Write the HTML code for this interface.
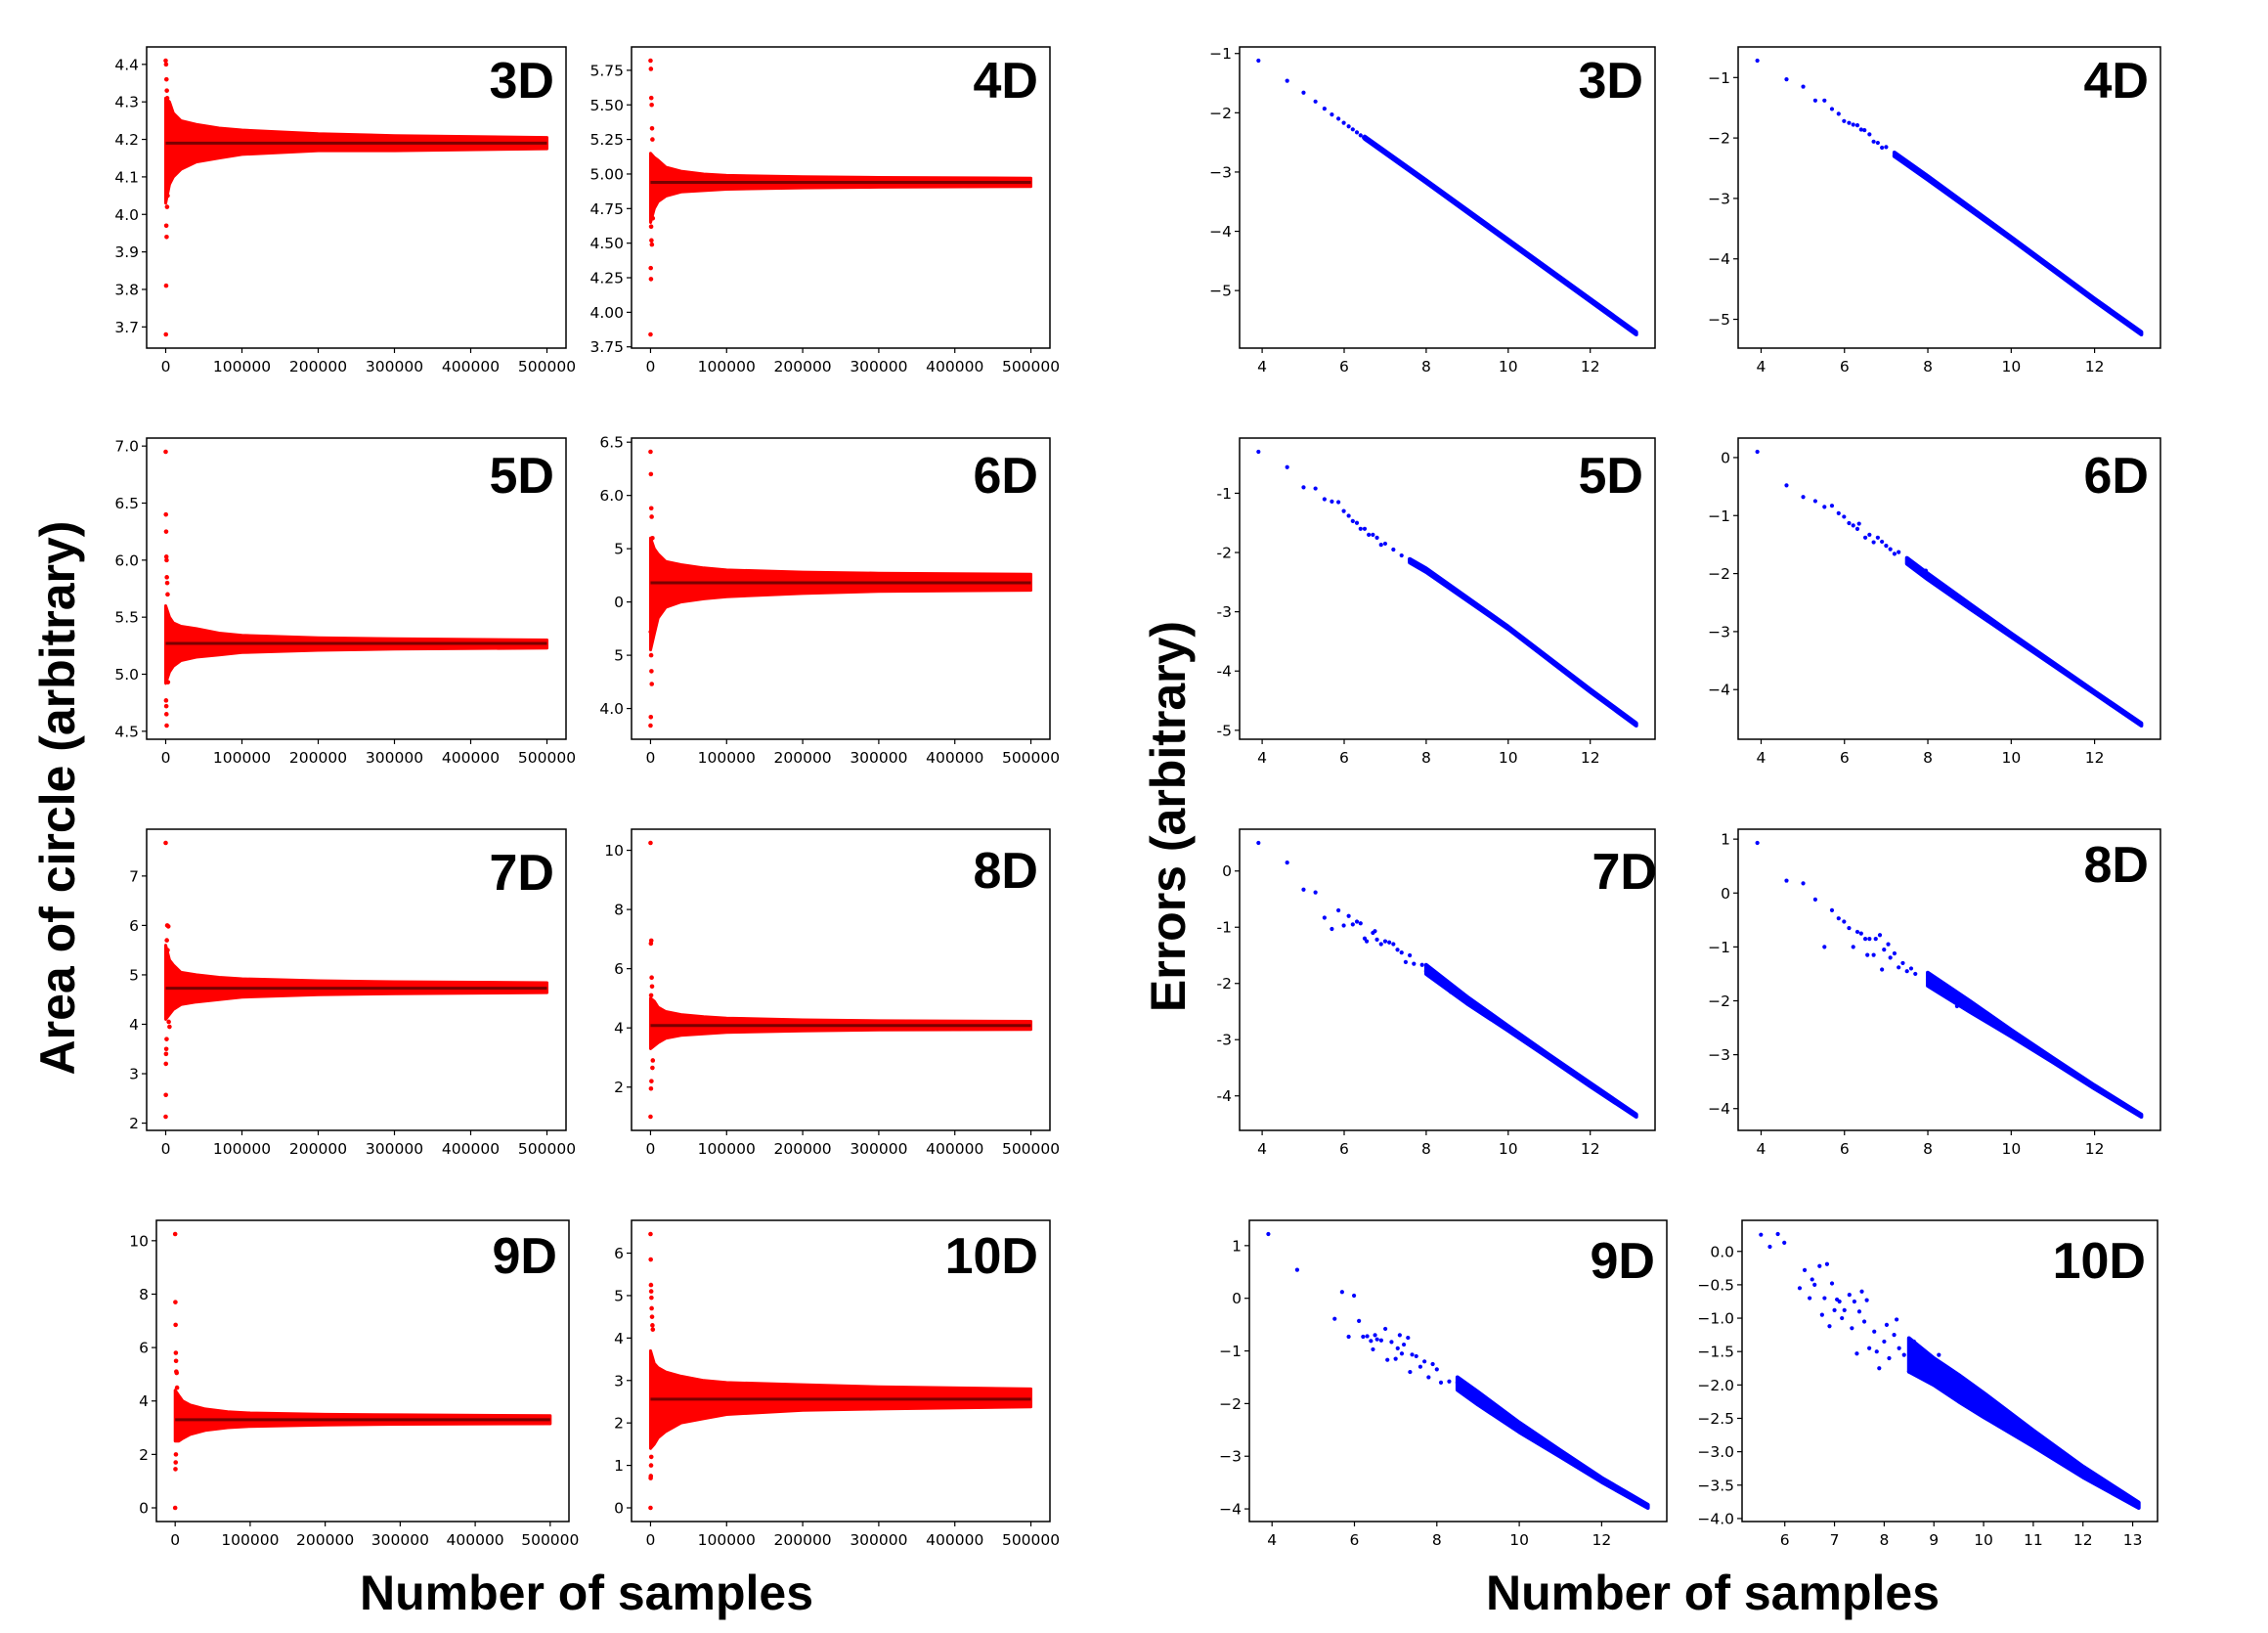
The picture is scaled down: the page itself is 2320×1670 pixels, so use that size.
<!DOCTYPE html>
<html><head><meta charset="utf-8"><style>
html,body{margin:0;padding:0;background:#fff;}
svg{display:block;font-family:"DejaVu Sans","Liberation Sans",sans-serif;}
</style></head><body>
<svg id="fig" xmlns="http://www.w3.org/2000/svg" width="2320" height="1670" viewBox="0 0 2320 1670">
<rect width="2320" height="1670" fill="#fff"/>
<text x="0" y="0" transform="translate(76,816) rotate(-90)" text-anchor="middle" font-family="Liberation Sans, sans-serif" font-weight="bold" font-size="50">Area of circle (arbitrary)</text>
<text x="0" y="0" transform="translate(1212,835) rotate(-90)" text-anchor="middle" font-family="Liberation Sans, sans-serif" font-weight="bold" font-size="50">Errors (arbitrary)</text>
<text x="600" y="1646" text-anchor="middle" font-family="Liberation Sans, sans-serif" font-weight="bold" font-size="50">Number of samples</text>
<text x="1752" y="1646" text-anchor="middle" font-family="Liberation Sans, sans-serif" font-weight="bold" font-size="50">Number of samples</text>
<g id="plots"></g>
</svg>
<script>
// ---------- LEFT (area) data ----------
const envX = [0, 5000, 10000, 20000, 40000, 70000, 100000, 200000, 300000, 500000];
const xTicksLeft = [0, 100000, 200000, 300000, 400000, 500000];
const xTickLblLeft = ["0","100000","200000","300000","400000","500000"];

const lo3D = [4.03,4.08,4.10,4.12,4.14,4.15,4.16,4.17,4.17,4.175];
const hi3D = [4.31,4.30,4.27,4.25,4.24,4.23,4.225,4.215,4.21,4.205];
const mean3D = 4.19;
const outX3D = [0,500,1000,1500,2000,800,1200,600,300,1800,2500,3000];
const outY3D = [4.41,4.40,4.36,4.33,4.31,3.97,3.94,3.81,3.68,4.02,4.05,4.08];
const yt3D = [3.7,3.8,3.9,4.0,4.1,4.2,4.3,4.4];
const yl3D = ["3.7","3.8","3.9","4.0","4.1","4.2","4.3","4.4"];

const lo4D = [4.65,4.75,4.80,4.84,4.87,4.88,4.89,4.90,4.905,4.91];
const hi4D = [5.15,5.12,5.10,5.05,5.02,5.00,4.99,4.98,4.975,4.97];
const mean4D = 4.94;
const outX4D = [0,500,1000,1500,2000,2500,800,1200,1800,300,600,0,3000];
const outY4D = [5.82,5.76,5.55,5.50,5.33,5.25,4.62,4.52,4.49,4.32,4.24,3.84,4.68];
const yt4D = [3.75,4.0,4.25,4.5,4.75,5.0,5.25,5.5,5.75];
const yl4D = ["3.75","4.00","4.25","4.50","4.75","5.00","5.25","5.50","5.75"];

const lo5D = [4.92,5.02,5.07,5.12,5.15,5.17,5.19,5.21,5.22,5.23];
const hi5D = [5.60,5.50,5.45,5.42,5.40,5.36,5.34,5.32,5.31,5.30];
const mean5D = 5.27;
const outX5D = [0,300,600,900,1200,1500,2000,2500,500,800,1000,1300,3000];
const outY5D = [6.95,6.40,6.25,6.03,6.00,5.85,5.80,5.70,4.77,4.72,4.65,4.55,4.93];
const yt5D = [4.5,5.0,5.5,6.0,6.5,7.0];
const yl5D = ["4.5","5.0","5.5","6.0","6.5","7.0"];

const lo6D = [4.55,4.70,4.85,4.95,5.00,5.03,5.05,5.08,5.10,5.11];
const hi6D = [5.60,5.50,5.45,5.38,5.35,5.32,5.30,5.28,5.27,5.26];
const mean6D = 5.18;
const outX6D = [0,500,1000,1500,2500,300,800,1200,1600,400,0];
const outY6D = [6.41,6.20,5.88,5.80,5.60,4.72,4.50,4.35,4.23,3.92,3.84];
const yt6D = [4.0,4.5,5.0,5.5,6.0,6.5];
const yl6D = ["4.0","5","0","5","6.0","6.5"];

const lo7D = [4.10,4.20,4.30,4.40,4.45,4.50,4.55,4.60,4.62,4.64];
const hi7D = [5.60,5.30,5.20,5.05,5.00,4.95,4.92,4.88,4.86,4.84];
const mean7D = 4.73;
const outX7D = [0,2000,3500,1500,2500,5000,1200,800,500,300,200,0,4000];
const outY7D = [7.67,6.00,5.98,5.70,5.50,3.95,3.70,3.50,3.40,3.20,2.57,2.13,4.05];
const yt7D = [2,3,4,5,6,7];
const yl7D = ["2","3","4","5","6","7"];

const lo8D = [3.30,3.40,3.50,3.65,3.75,3.80,3.85,3.90,3.93,3.95];
const hi8D = [5.00,4.90,4.70,4.55,4.45,4.38,4.33,4.27,4.24,4.22];
const mean8D = 4.08;
const outX8D = [0,1000,500,1500,2000,800,3000,2500,1200,600,0];
const outY8D = [10.25,6.95,6.85,5.70,5.40,5.10,2.90,2.65,2.20,1.95,1.00];
const yt8D = [2,4,6,8,10];
const yl8D = ["2","4","6","8","10"];

const lo9D = [2.50,2.50,2.60,2.75,2.90,3.00,3.05,3.10,3.13,3.15];
const hi9D = [4.40,4.20,4.00,3.85,3.70,3.60,3.55,3.50,3.48,3.45];
const mean9D = 3.30;
const outX9D = [0,300,600,900,1200,1500,2000,2500,1000,700,400,0];
const outY9D = [10.25,7.70,6.85,5.80,5.50,5.10,5.05,4.50,2.00,1.70,1.45,0.00];
const yt9D = [0,2,4,6,8,10];
const yl9D = ["0","2","4","6","8","10"];

const lo10D = [1.40,1.50,1.65,1.80,2.00,2.10,2.20,2.30,2.33,2.38];
const hi10D = [3.70,3.40,3.30,3.20,3.10,3.00,2.95,2.90,2.85,2.80];
const mean10D = 2.56;
const outX10D = [0,300,600,900,1200,1500,2000,2500,3000,1000,700,400,200,0];
const outY10D = [6.45,5.85,5.25,5.10,4.95,4.70,4.50,4.30,4.20,1.20,1.00,0.75,0.70,0.00];
const yt10D = [0,1,2,3,4,5,6];
const yl10D = ["0","1","2","3","4","5","6"];

// ---------- RIGHT (error) data ----------
const xt = [4,6,8,10,12];
const xtl = ["4","6","8","10","12"];
const xt10 = [6,7,8,9,10,11,12,13];
const xtl10 = ["6","7","8","9","10","11","12","13"];

const sx3D = [3.91,4.61,5.01,5.30,5.52,5.70,5.86,5.99,6.11,6.21,6.31,6.40,6.48];
const sy3D = [-1.12,-1.46,-1.66,-1.81,-1.93,-2.03,-2.10,-2.17,-2.23,-2.28,-2.33,-2.38,-2.42];
const bx3D = [6.5,8,10,12,13.12];
const bc3D = [-2.42,-3.16,-4.16,-5.16,-5.72];
const bw3D = [0.02,0.02,0.02,0.02,0.02];
const eyt3D = [-5,-4,-3,-2,-1];
const eyl3D = ["−5","−4","−3","−2","−1"];

const sx4D = [3.91,4.61,5.01,5.30,5.52,5.70,5.86,5.99,6.11,6.21,6.31,6.40,6.48,6.60,6.70,6.80,6.90,7.00,7.20];
const sy4D = [-0.72,-1.03,-1.15,-1.38,-1.38,-1.52,-1.60,-1.72,-1.75,-1.78,-1.79,-1.86,-1.87,-1.94,-2.06,-2.08,-2.16,-2.15,-2.30];
const bx4D = [7.2,8,10,12,13.12];
const bc4D = [-2.27,-2.66,-3.66,-4.68,-5.23];
const bw4D = [0.03,0.03,0.02,0.02,0.02];
const eyt4D = [-5,-4,-3,-2,-1];
const eyl4D = ["−5","−4","−3","−2","−1"];

const sx5D = [3.91,4.61,5.01,5.30,5.52,5.70,5.86,5.99,6.11,6.21,6.31,6.40,6.50,6.60,6.70,6.80,6.90,7.00,7.20,7.40,7.60];
const sy5D = [-0.30,-0.56,-0.90,-0.92,-1.10,-1.14,-1.15,-1.30,-1.38,-1.47,-1.50,-1.60,-1.60,-1.70,-1.70,-1.75,-1.87,-1.85,-1.95,-2.05,-2.12];
const bx5D = [7.6,8,10,12,13.12];
const bc5D = [-2.14,-2.30,-3.27,-4.33,-4.90];
const bw5D = [0.03,0.03,0.02,0.02,0.02];
const eyt5D = [-5,-4,-3,-2,-1];
const eyl5D = ["-5","-4","-3","-2","-1"];

const sx6D = [3.91,4.61,5.01,5.30,5.52,5.70,5.86,5.99,6.11,6.21,6.31,6.35,6.50,6.60,6.70,6.80,6.90,7.00,7.10,7.20,7.30,7.60,7.85,7.95];
const sy6D = [0.10,-0.48,-0.68,-0.75,-0.85,-0.83,-0.96,-1.02,-1.13,-1.17,-1.23,-1.14,-1.38,-1.33,-1.46,-1.38,-1.45,-1.52,-1.58,-1.66,-1.63,-1.85,-2.00,-1.95];
const bx6D = [7.5,8,9,10,12,13.12];
const bc6D = [-1.78,-2.05,-2.56,-3.06,-4.05,-4.60];
const bw6D = [0.05,0.05,0.04,0.03,0.02,0.02];
const eyt6D = [-4,-3,-2,-1,0];
const eyl6D = ["−4","−3","−2","−1","0"];

const sx7D = [3.91,4.61,5.01,5.30,5.52,5.70,5.86,5.99,6.11,6.21,6.31,6.40,6.50,6.55,6.70,6.75,6.80,6.90,7.00,7.10,7.20,7.30,7.40,7.50,7.60,7.70,7.90,8.00,8.30,8.50,8.60];
const sy7D = [0.50,0.15,-0.33,-0.38,-0.83,-1.03,-0.70,-0.97,-0.80,-0.95,-0.90,-0.93,-1.20,-1.25,-1.10,-1.07,-1.22,-1.30,-1.25,-1.27,-1.30,-1.40,-1.45,-1.62,-1.50,-1.65,-1.67,-1.78,-1.93,-2.07,-2.15];
const bx7D = [8,9,10,11,12,13.12];
const bc7D = [-1.75,-2.30,-2.80,-3.30,-3.80,-4.35];
const bw7D = [0.08,0.06,0.04,0.03,0.03,0.02];
const eyt7D = [-4,-3,-2,-1,0];
const eyl7D = ["-4","-3","-2","-1","0"];

const sx8D = [3.91,4.61,5.01,5.30,5.52,5.70,5.86,5.99,6.11,6.21,6.31,6.40,6.50,6.55,6.60,6.70,6.75,6.85,6.90,6.95,7.05,7.10,7.20,7.30,7.40,7.50,7.60,7.70,8.00,8.20,8.50,8.70];
const sy8D = [0.93,0.23,0.18,-0.12,-1.00,-0.32,-0.47,-0.53,-0.65,-1.00,-0.72,-0.75,-0.85,-1.15,-0.85,-1.15,-0.85,-0.78,-1.42,-1.05,-0.95,-1.20,-1.12,-1.38,-1.30,-1.45,-1.40,-1.50,-1.60,-1.78,-1.95,-2.10];
const bx8D = [8,9,10,11,12,13.12];
const bc8D = [-1.60,-2.10,-2.60,-3.10,-3.60,-4.13];
const bw8D = [0.12,0.10,0.06,0.04,0.03,0.02];
const eyt8D = [-4,-3,-2,-1,0,1];
const eyl8D = ["−4","−3","−2","−1","0","1"];

const sx9D = [3.91,4.61,5.52,5.70,5.86,5.99,6.11,6.21,6.31,6.40,6.45,6.50,6.55,6.65,6.75,6.80,6.90,7.00,7.05,7.10,7.15,7.20,7.30,7.35,7.40,7.50,7.60,7.70,7.80,7.90,8.00,8.10,8.30,8.50,8.70];
const sy9D = [1.22,0.54,-0.39,0.12,-0.73,0.05,-0.43,-0.73,-0.72,-0.81,-0.97,-0.70,-0.78,-0.80,-0.58,-1.17,-0.83,-1.15,-0.95,-0.70,-1.05,-0.88,-0.75,-1.40,-1.07,-1.10,-1.30,-1.20,-1.50,-1.25,-1.35,-1.60,-1.58,-1.60,-1.70];
const bx9D = [8.5,9,10,11,12,13.12];
const bc9D = [-1.62,-1.90,-2.45,-2.95,-3.45,-3.95];
const bw9D = [0.12,0.12,0.09,0.06,0.04,0.03];
const eyt9D = [-4,-3,-2,-1,0,1];
const eyl9D = ["−4","−3","−2","−1","0","1"];

const sx10D = [5.52,5.70,5.86,5.99,6.30,6.40,6.50,6.55,6.60,6.70,6.75,6.80,6.85,6.90,6.95,7.00,7.05,7.10,7.15,7.20,7.30,7.35,7.40,7.45,7.50,7.55,7.60,7.65,7.70,7.80,7.85,7.90,8.00,8.05,8.10,8.20,8.25,8.30,8.40,8.50,8.60,8.70,8.80,8.90,9.00,9.10];
const sy10D = [0.25,0.07,0.26,0.13,-0.55,-0.28,-0.70,-0.42,-0.50,-0.22,-0.95,-0.70,-0.19,-1.12,-0.48,-0.88,-0.72,-0.75,-1.00,-0.88,-0.65,-1.15,-0.75,-1.53,-0.90,-0.60,-1.05,-0.73,-1.45,-1.20,-1.50,-1.75,-1.35,-1.10,-1.60,-1.25,-1.02,-1.45,-1.55,-1.80,-1.35,-1.60,-1.70,-1.85,-1.75,-1.55];
const bx10D = [8.5,9,9.5,10,11,12,13.12];
const bc10D = [-1.55,-1.80,-2.05,-2.30,-2.80,-3.30,-3.80];
const bw10D = [0.25,0.20,0.20,0.18,0.12,0.08,0.04];
const eyt10D = [-4,-3.5,-3,-2.5,-2,-1.5,-1,-0.5,0];
const eyl10D = ["−4.0","−3.5","−3.0","−2.5","−2.0","−1.5","−1.0","−0.5","0.0"];

const NS = "http://www.w3.org/2000/svg";
const root = document.getElementById('plots');
function el(tag, attrs, parent){ const e=document.createElementNS(NS,tag); for(const k in attrs) e.setAttribute(k,attrs[k]); (parent||root).appendChild(e); return e; }
function lim(vals){ const mn=Math.min(...vals), mx=Math.max(...vals), m=(mx-mn)*0.05; return [mn-m, mx+m]; }

function frame(g, p, label, xticks, xlbls, yticks, ylbls, sx, sy){
  for(let i=0;i<xticks.length;i++){
    const x=sx(xticks[i]);
    const t=el('line',{x1:x,x2:x,y1:p.y+p.h,y2:p.y+p.h+5,stroke:'#000','stroke-width':1.2},g);
    
    
    const tx=el('text',{x:x,y:p.y+p.h+24,'text-anchor':'middle','font-size':15.5},g);
    tx.textContent=xlbls[i];
    
    
  }
  for(let i=0;i<yticks.length;i++){
    const y=sy(yticks[i]);
    const t=el('line',{x1:p.x-5,x2:p.x,y1:y,y2:y,stroke:'#000','stroke-width':1.2},g);
    
    
    const tx=el('text',{x:p.x-8,y:y+5.5,'text-anchor':'end','font-size':15.5},g);
    tx.textContent=ylbls[i];
    
    
  }
  const r=el('rect',{x:p.x,y:p.y,width:p.w,height:p.h,fill:'none',stroke:'#000','stroke-width':1.5},g);
  
  
  const lt=el('text',{x:p.x+p.w-12+(p.lx||0),y:p.y+p.ly+2,'text-anchor':'end','font-size':52,'font-weight':'bold','font-family':'Liberation Sans, sans-serif'},g);
  lt.textContent=label;
  
  
}

function leftPanel(p, label, lo, hi, mean, ox, oy, yt, yl){
  const g=el('g',{});
  
  
  const xl=lim([0,500000]);
  const yL=lim(lo.concat(hi,oy));
  const sx=v=>p.x+(v-xl[0])/(xl[1]-xl[0])*p.w;
  const sy=v=>p.y+p.h-(v-yL[0])/(yL[1]-yL[0])*p.h;
  let d='';
  for(let i=0;i<envX.length;i++) d+=(i?'L':'M')+sx(envX[i]).toFixed(1)+','+sy(hi[i]).toFixed(1);
  for(let i=envX.length-1;i>=0;i--) d+='L'+sx(envX[i]).toFixed(1)+','+sy(lo[i]).toFixed(1);
  const band=el('path',{d:d+'Z',fill:'#ff0000',stroke:'#ff0000','stroke-width':3,'stroke-linejoin':'round'},g);
  
  
  for(let i=0;i<ox.length;i++){
    const c=el('circle',{cx:sx(ox[i]),cy:sy(oy[i]),r:2.3,fill:'#ff0000'},g);
    
    
  }
  const m=el('line',{x1:sx(0),x2:sx(500000),y1:sy(mean),y2:sy(mean),stroke:'#7a0000','stroke-width':3},g);
  
  
  frame(g,p,label,xTicksLeft,xTickLblLeft,yt,yl,sx,sy);
}

function rightPanel(p, label, sxs, sys, bx, bc, bw, yt, yl, xticks, xlbls){
  const g=el('g',{});
  
  
  const xl=lim(sxs.concat(bx));
  const yvals=sys.concat(bc.map((c,i)=>c+bw[i]),bc.map((c,i)=>c-bw[i]));
  const yL=lim(yvals);
  const sx=v=>p.x+(v-xl[0])/(xl[1]-xl[0])*p.w;
  const sy=v=>p.y+p.h-(v-yL[0])/(yL[1]-yL[0])*p.h;
  let d='';
  for(let i=0;i<bx.length;i++) d+=(i?'L':'M')+sx(bx[i]).toFixed(1)+','+sy(bc[i]+bw[i]).toFixed(1);
  for(let i=bx.length-1;i>=0;i--) d+='L'+sx(bx[i]).toFixed(1)+','+sy(bc[i]-bw[i]).toFixed(1);
  const band=el('path',{d:d+'Z',fill:'#0000ff',stroke:'#0000ff','stroke-width':4,'stroke-linejoin':'round'},g);
  
  
  for(let i=0;i<sxs.length;i++){
    const c=el('circle',{cx:sx(sxs[i]),cy:sy(sys[i]),r:2.1,fill:'#0000ff'},g);
    
    
  }
  frame(g,p,label,xticks,xlbls,yt,yl,sx,sy);
}

const H=308;
leftPanel({x:150,y:48,w:429,h:H,ly:50},'3D',lo3D,hi3D,mean3D,outX3D,outY3D,yt3D,yl3D);
leftPanel({x:646,y:48,w:428,h:H,ly:50},'4D',lo4D,hi4D,mean4D,outX4D,outY4D,yt4D,yl4D);
leftPanel({x:150,y:448,w:429,h:H,ly:54},'5D',lo5D,hi5D,mean5D,outX5D,outY5D,yt5D,yl5D);
leftPanel({x:646,y:448,w:428,h:H,ly:54},'6D',lo6D,hi6D,mean6D,outX6D,outY6D,yt6D,yl6D);
leftPanel({x:150,y:848,w:429,h:H,ly:60},'7D',lo7D,hi7D,mean7D,outX7D,outY7D,yt7D,yl7D);
leftPanel({x:646,y:848,w:428,h:H,ly:58},'8D',lo8D,hi8D,mean8D,outX8D,outY8D,yt8D,yl8D);
leftPanel({x:160,y:1248,w:422,h:H,ly:52},'9D',lo9D,hi9D,mean9D,outX9D,outY9D,yt9D,yl9D);
leftPanel({x:646,y:1248,w:428,h:H,ly:52},'10D',lo10D,hi10D,mean10D,outX10D,outY10D,yt10D,yl10D);

rightPanel({x:1268,y:48,w:425,h:H,ly:50},'3D',sx3D,sy3D,bx3D,bc3D,bw3D,eyt3D,eyl3D,xt,xtl);
rightPanel({x:1778,y:48,w:432,h:H,ly:50},'4D',sx4D,sy4D,bx4D,bc4D,bw4D,eyt4D,eyl4D,xt,xtl);
rightPanel({x:1268,y:448,w:425,h:H,ly:54},'5D',sx5D,sy5D,bx5D,bc5D,bw5D,eyt5D,eyl5D,xt,xtl);
rightPanel({x:1778,y:448,w:432,h:H,ly:54},'6D',sx6D,sy6D,bx6D,bc6D,bw6D,eyt6D,eyl6D,xt,xtl);
rightPanel({x:1268,y:848,w:425,h:H,ly:59,lx:14},'7D',sx7D,sy7D,bx7D,bc7D,bw7D,eyt7D,eyl7D,xt,xtl);
rightPanel({x:1778,y:848,w:432,h:H,ly:52},'8D',sx8D,sy8D,bx8D,bc8D,bw8D,eyt8D,eyl8D,xt,xtl);
rightPanel({x:1278,y:1248,w:427,h:H,ly:57},'9D',sx9D,sy9D,bx9D,bc9D,bw9D,eyt9D,eyl9D,xt,xtl);
rightPanel({x:1782,y:1248,w:425,h:H,ly:57},'10D',sx10D,sy10D,bx10D,bc10D,bw10D,eyt10D,eyl10D,xt10,xtl10);
</script>
</body></html>
